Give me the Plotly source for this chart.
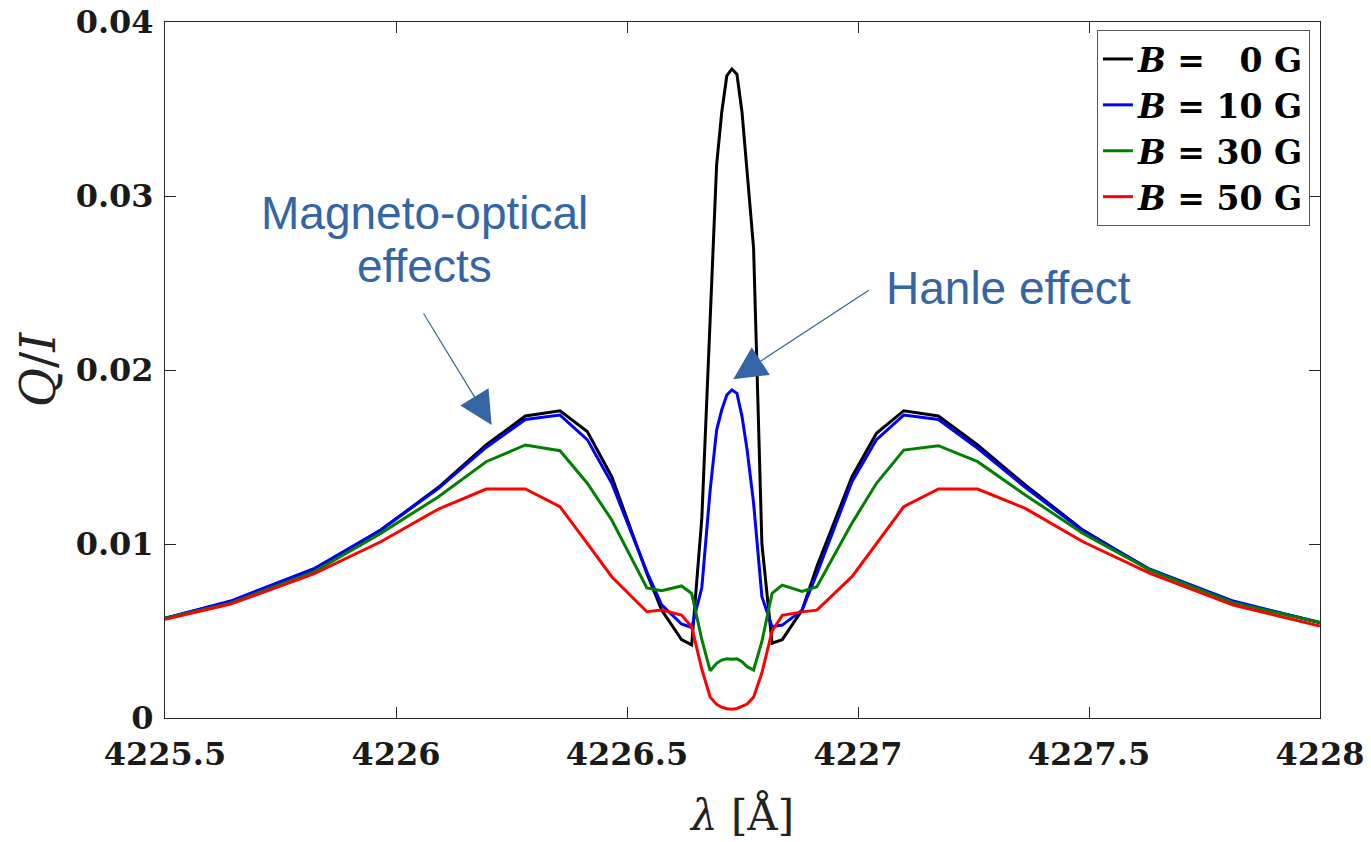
import plotly.graph_objects as go

# Wavelength grid [Å]
wavelength = [4225.500, 4225.642, 4225.822, 4225.967, 4226.092, 4226.195, 4226.280, 4226.355,
              4226.414, 4226.467, 4226.543, 4226.575, 4226.618, 4226.640, 4226.662, 4226.680,
              4226.694, 4226.705, 4226.716, 4226.727, 4226.738, 4226.749, 4226.760, 4226.774,
              4226.792, 4226.814, 4226.836, 4226.879, 4226.911, 4226.987, 4227.040, 4227.099,
              4227.174, 4227.259, 4227.362, 4227.487, 4227.632, 4227.812, 4228.000]

q_b0 = [0.00573, 0.00669, 0.00851, 0.01080, 0.01326, 0.01569, 0.01736, 0.01766,
        0.01646, 0.01387, 0.00830, 0.00620, 0.00450, 0.00420, 0.01150, 0.02250,
        0.03180, 0.03480, 0.03690, 0.03730, 0.03700, 0.03480, 0.03150, 0.02700,
        0.01000, 0.00430, 0.00450, 0.00620, 0.00870, 0.01387, 0.01636, 0.01766,
        0.01736, 0.01569, 0.01339, 0.01080, 0.00850, 0.00669, 0.00548]

q_b10 = [0.00573, 0.00672, 0.00858, 0.01080, 0.01320, 0.01555, 0.01716, 0.01741,
         0.01600, 0.01349, 0.00840, 0.00650, 0.00540, 0.00520, 0.00750, 0.01310,
         0.01655, 0.01770, 0.01856, 0.01885, 0.01866, 0.01732, 0.01540, 0.01235,
         0.00697, 0.00525, 0.00534, 0.00620, 0.00830, 0.01358, 0.01600, 0.01741,
         0.01716, 0.01550, 0.01326, 0.01075, 0.00855, 0.00672, 0.00548]

q_b30 = [0.00573, 0.00660, 0.00840, 0.01061, 0.01272, 0.01473, 0.01569, 0.01536,
         0.01349, 0.01138, 0.00748, 0.00732, 0.00759, 0.00716, 0.00450, 0.00272,
         0.00314, 0.00333, 0.00340, 0.00337, 0.00340, 0.00324, 0.00295, 0.00276,
         0.00440, 0.00716, 0.00764, 0.00728, 0.00755, 0.01120, 0.01349, 0.01540,
         0.01565, 0.01473, 0.01282, 0.01061, 0.00850, 0.00663, 0.00548]

q_b50 = [0.00567, 0.00655, 0.00828, 0.01013, 0.01201, 0.01316, 0.01316, 0.01214,
         0.01004, 0.00812, 0.00611, 0.00621, 0.00592, 0.00525, 0.00280, 0.00120,
         0.00078, 0.00062, 0.00053, 0.00050, 0.00055, 0.00068, 0.00080, 0.00120,
         0.00260, 0.00500, 0.00590, 0.00610, 0.00620, 0.00812, 0.01004, 0.01214,
         0.01316, 0.01316, 0.01205, 0.01013, 0.00831, 0.00649, 0.00529]

x_ticks = [4225.5, 4226, 4226.5, 4227, 4227.5, 4228]
x_ticktext = ["4225.5", "4226", "4226.5", "4227", "4227.5", "4228"]
y_ticks = [0, 0.01, 0.02, 0.03, 0.04]
y_ticktext = ["0", "0.01", "0.02", "0.03", "0.04"]

series = [
    ("<i>B</i> = \u20070 G", q_b0, "#000000"),
    ("<i>B</i> = 10 G", q_b10, "#0000ff"),
    ("<i>B</i> = 30 G", q_b30, "#008000"),
    ("<i>B</i> = 50 G", q_b50, "#ff0000"),
]

fig = go.Figure()
for name, vals, col in series:
    fig.add_trace(go.Scatter(x=wavelength, y=vals, mode="lines", name=name,
                             line=dict(color=col, width=3)))

axis_col = "#262626"
serif = "DejaVu Serif"
ann_col = "#3465a4"
sans = "Liberation Sans"
tick_font = dict(family=serif, size=32, color="#1a1a1a", weight="bold")

fig.update_layout(
    width=1371, height=842,
    margin=dict(l=165, r=51, t=22, b=124),
    plot_bgcolor="white", paper_bgcolor="white",
    showlegend=True,
    legend=dict(x=0.9913, y=0.9885, xanchor="right", yanchor="top",
                bgcolor="white", bordercolor="#555555", borderwidth=1,
                font=dict(family=serif, size=33, color="black", weight="bold"),
                tracegroupgap=0),
    xaxis=dict(range=[4225.5, 4228], tickvals=x_ticks, ticktext=x_ticktext,
               ticks="inside", ticklen=11, tickcolor=axis_col, tickwidth=1,
               showline=True, linecolor=axis_col, linewidth=1, mirror="ticks",
               showgrid=False, zeroline=False, automargin=False,
               tickfont=tick_font, ticklabelstandoff=8,
               title=dict(text="<i>λ</i> [Å]", font=dict(family=serif, size=42, color="#222222"),
                          standoff=28)),
    yaxis=dict(range=[0, 0.04], tickvals=y_ticks, ticktext=y_ticktext,
               ticks="inside", ticklen=11, tickcolor=axis_col, tickwidth=1,
               showline=True, linecolor=axis_col, linewidth=1, mirror="ticks",
               showgrid=False, zeroline=False, automargin=False,
               tickfont=tick_font, ticklabelstandoff=4,
               title=dict(text="<i>Q</i>/<i>I</i>", font=dict(family=serif, size=48, color="#222222"),
                          standoff=4)),
)

# Annotation texts
fig.add_annotation(x=4226.061, y=0.02902, xref="x", yref="y", text="Magneto-optical",
                   showarrow=False, font=dict(family=sans, size=46, color=ann_col))
fig.add_annotation(x=4226.061, y=0.02597, xref="x", yref="y", text="effects",
                   showarrow=False, font=dict(family=sans, size=46, color=ann_col))
fig.add_annotation(x=4227.325, y=0.0247, xref="x", yref="y", text="Hanle effect",
                   showarrow=False, font=dict(family=sans, size=46, color=ann_col))

# Arrows
fig.add_annotation(x=4226.207, y=0.01684, xref="x", yref="y", text="", showarrow=True,
                   ax=-69, ay=-113, axref="pixel", ayref="pixel",
                   arrowhead=2, arrowsize=5.5, arrowwidth=1.2, arrowcolor=ann_col)
fig.add_annotation(x=4226.730, y=0.01947, xref="x", yref="y", text="", showarrow=True,
                   ax=137, ay=-90, axref="pixel", ayref="pixel",
                   arrowhead=2, arrowsize=5.5, arrowwidth=1.2, arrowcolor=ann_col)

fig.write_html("out.html")
